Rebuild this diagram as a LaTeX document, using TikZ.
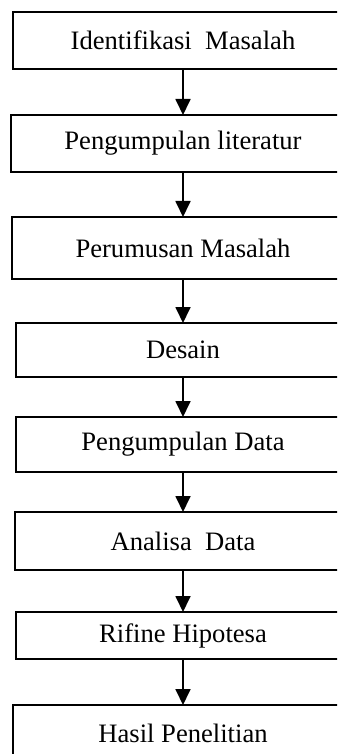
\documentclass[tikz,border=0pt]{standalone}
\usepackage{fontspec}
\setmainfont{Liberation Serif}
\usetikzlibrary{positioning, arrows.meta}

\begin{document}
\begin{tikzpicture}[>={Triangle[length=8pt, width=7.5pt]},
  tahap/.style={draw, rectangle, line width=0.9pt, inner sep=0pt, outer sep=0pt, font=\fontsize{13.3}{16}\selectfont},
  panah/.style={->, line width=0.9pt}]
\useasboundingbox (0,0) rectangle (168.5pt,-377pt);
\clip (0,0) rectangle (168.5pt,-377pt);

\node[tahap, anchor=north, minimum width=170pt, minimum height=28.5pt] (identifikasi) at (91.5pt,-6pt) {Identifikasi\ \ Masalah};
\node[tahap, below=23pt of identifikasi, minimum width=172pt, minimum height=28.5pt] (literatur) {Pengumpulan literatur};
\node[tahap, below=22.5pt of literatur, minimum width=171pt, minimum height=31pt] (rumusan) {Perumusan Masalah};
\node[tahap, below=22pt of rumusan, minimum width=167pt, minimum height=27pt] (desain) {Desain};
\node[tahap, below=20pt of desain, minimum width=167pt, minimum height=27.5pt] (data) {Pengumpulan Data};
\node[tahap, below=20pt of data, minimum width=168pt, minimum height=29pt] (analisa) {Analisa\ \ Data};
\node[tahap, below=21pt of analisa, minimum width=167pt, minimum height=23.5pt] (hipotesa) {Rifine Hipotesa};
\node[tahap, below=23pt of hipotesa, minimum width=170pt, minimum height=28.5pt] (hasil) {Hasil Penelitian};

\draw[panah] (identifikasi) -- (literatur);
\draw[panah] (literatur) -- (rumusan);
\draw[panah] (rumusan) -- (desain);
\draw[panah] (desain) -- (data);
\draw[panah] (data) -- (analisa);
\draw[panah] (analisa) -- (hipotesa);
\draw[panah] (hipotesa) -- (hasil);
\end{tikzpicture}
\end{document}
